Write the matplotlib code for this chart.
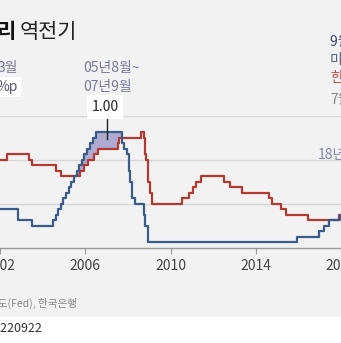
import numpy as np
import pandas as pd
import matplotlib
matplotlib.use("Agg")
import matplotlib.pyplot as plt
from matplotlib.patches import Rectangle

plt.rcParams['font.family'] = ['Noto Sans CJK KR', 'DejaVu Sans']

# 미국 기준금리(상단) 변경일과 금리
fed_dates = ['2002-01-01', '2002-11-06', '2003-06-25', '2004-06-30', '2004-08-10',
             '2004-09-21', '2004-11-10', '2004-12-14', '2005-02-02', '2005-03-22',
             '2005-05-03', '2005-06-30', '2005-08-09', '2005-09-20', '2005-11-01',
             '2005-12-13', '2006-01-31', '2006-03-28', '2006-05-10', '2006-06-29',
             '2007-09-18', '2007-10-31', '2007-12-11', '2008-01-22', '2008-01-30',
             '2008-03-18', '2008-04-30', '2008-10-08', '2008-10-29', '2008-12-16',
             '2015-12-16', '2016-12-14', '2017-03-15', '2017-06-14', '2017-12-13',
             '2018-03-21']
fed_rates = [1.75, 1.25, 1.00, 1.25, 1.50, 1.75, 2.00, 2.25, 2.50, 2.75,
             3.00, 3.25, 3.50, 3.75, 4.00, 4.25, 4.50, 4.75, 5.00, 5.25,
             4.75, 4.50, 4.25, 3.50, 3.00, 2.25, 2.00, 1.50, 1.00, 0.25,
             0.50, 0.75, 1.00, 1.25, 1.50, 1.75]

# 한국 기준금리 변경일과 금리
kor_dates = ['2002-01-01', '2002-05-07', '2003-05-13', '2003-07-10', '2004-08-12',
             '2004-11-11', '2005-10-11', '2005-12-08', '2006-02-09', '2006-06-08',
             '2006-08-10', '2007-07-12', '2007-08-09', '2008-08-07', '2008-10-09',
             '2008-10-27', '2008-11-07', '2008-12-11', '2009-01-09', '2009-02-12',
             '2010-07-09', '2010-11-16', '2011-01-13', '2011-03-10', '2011-06-10',
             '2012-07-12', '2012-10-11', '2013-05-09', '2014-08-14', '2014-10-15',
             '2015-03-12', '2015-06-11', '2016-06-09', '2017-11-30']
kor_rates = [4.00, 4.25, 4.00, 3.75, 3.50, 3.25, 3.50, 3.75, 4.00, 4.25,
             4.50, 4.75, 5.00, 5.25, 5.00, 4.25, 4.00, 3.00, 2.50, 2.00,
             2.25, 2.50, 2.75, 3.00, 3.25, 3.00, 2.75, 2.50, 2.25, 2.00,
             1.75, 1.50, 1.25, 1.50]

years = [2002, 2006, 2010, 2014, 2018]
gap_label = '1.00'


def to_year(dates):
    d = pd.to_datetime(dates)
    return np.asarray(d.year + (d.dayofyear - 1) / 365.25, dtype=float)


t_end = 2018.5
fed_t = np.append(to_year(fed_dates), t_end)
fed_r = np.append(fed_rates, fed_rates[-1])
kor_t = np.append(to_year(kor_dates), t_end)
kor_r = np.append(kor_rates, kor_rates[-1])

W, H = 341, 343
fig = plt.figure(figsize=(W / 100, H / 100), dpi=100, facecolor='#f2f2f2')


def fx(px):
    return px / W


def fy(py):
    return 1 - py / H


# 하단 흰 띠
fig.patches.append(Rectangle((0, 0), 1, fy(317), transform=fig.transFigure,
                             facecolor='white', edgecolor='none', zorder=0))

y0, y6 = 247.5, 116
ax = fig.add_axes([0, fy(y0), 1, (y0 - y6) / H])
ax.set_facecolor('none')
ax.set_xlim(2002 + 4.5 / 21.625, 2002 + 345.5 / 21.625)
ax.set_ylim(0, 6)

# 역전 구간 음영
grid_t = np.unique(np.concatenate([fed_t, kor_t]))
fed_v = np.asarray(fed_r)[np.searchsorted(fed_t, grid_t, 'right') - 1]
kor_v = np.asarray(kor_r)[np.searchsorted(kor_t, grid_t, 'right') - 1]
inv = (grid_t >= 2005.6) & (grid_t <= 2007.72)
ax.fill_between(grid_t, kor_v, fed_v, where=inv, step='post',
                facecolor='#aeaad0', edgecolor='none', zorder=2)

ax.step(kor_t, kor_r, where='post', color='#b23a33', lw=1.6, zorder=3)
ax.step(fed_t, fed_r, where='post', color='#3b5c88', lw=1.6, zorder=4)

# 최대 격차 표시선
ax.plot([2007.02, 2007.02], [4.95, 5.95], color='#222222', lw=1, zorder=5,
        clip_on=False)

ax.set_yticks([2, 4, 6])
ax.yaxis.grid(True, color='#d6d6d6', lw=1)
ax.set_axisbelow(True)
ax.tick_params(axis='y', length=0, labelleft=False)
ax.set_xticks(years)
ax.set_xticklabels([str(y) for y in years])
ax.tick_params(axis='x', direction='out', length=4, color='#999999',
               labelsize=10, labelcolor='#444444', pad=4)
for s in ['top', 'left', 'right']:
    ax.spines[s].set_visible(False)
ax.spines['bottom'].set_color('#999999')
ax.spines['bottom'].set_linewidth(1)

# 제목
fig.text(fx(16), fy(32), '금리', fontsize=15, fontweight='bold', color='#111111',
         ha='right', va='center')
fig.text(fx(20), fy(32), '역전기', fontsize=15, color='#222222',
         ha='left', va='center')

# 왼쪽 설명
fig.text(fx(18), fy(68), '3월', fontsize=10, color='#7a7a9c', ha='right', va='center')
fig.text(fx(18), fy(87), '%p', fontsize=10, color='#555577', ha='right', va='center',
         bbox=dict(boxstyle='square,pad=0.2', facecolor='white', edgecolor='none'))

# 역전 구간 설명
fig.text(fx(83), fy(68), '05년8월~', fontsize=10, color='#7a7a9c', ha='left', va='center')
fig.text(fx(83), fy(87), '07년9월', fontsize=10, color='#7a7a9c', ha='left', va='center')
fig.text(fx(105), fy(107), gap_label, fontsize=10, color='#222222', ha='center',
         va='center',
         bbox=dict(boxstyle='square,pad=0.35', facecolor='white', edgecolor='none'))

# 오른쪽 설명
fig.text(fx(330), fy(42), '9월 현재', fontsize=10, color='#3f3f6e', ha='left', va='center')
fig.text(fx(330), fy(60), '미국', fontsize=10, color='#52607e', ha='left', va='center')
fig.text(fx(330), fy(78), '한국', fontsize=10, color='#c0504d', ha='left', va='center')
fig.text(fx(330), fy(100), '7월', fontsize=10, color='#888888', ha='left', va='center')
fig.text(fx(318), fy(155), '18년', fontsize=10, color='#8585a8', ha='left', va='center')

# 출처
fig.text(fx(77), fy(303), '연방준비제도(Fed), 한국은행', fontsize=7.6, color='#888888',
         ha='right', va='center')
fig.text(fx(42), fy(328), '20220922', fontsize=9, color='#333333',
         ha='right', va='center')

fig.savefig('out.png', dpi=100, facecolor=fig.get_facecolor())
